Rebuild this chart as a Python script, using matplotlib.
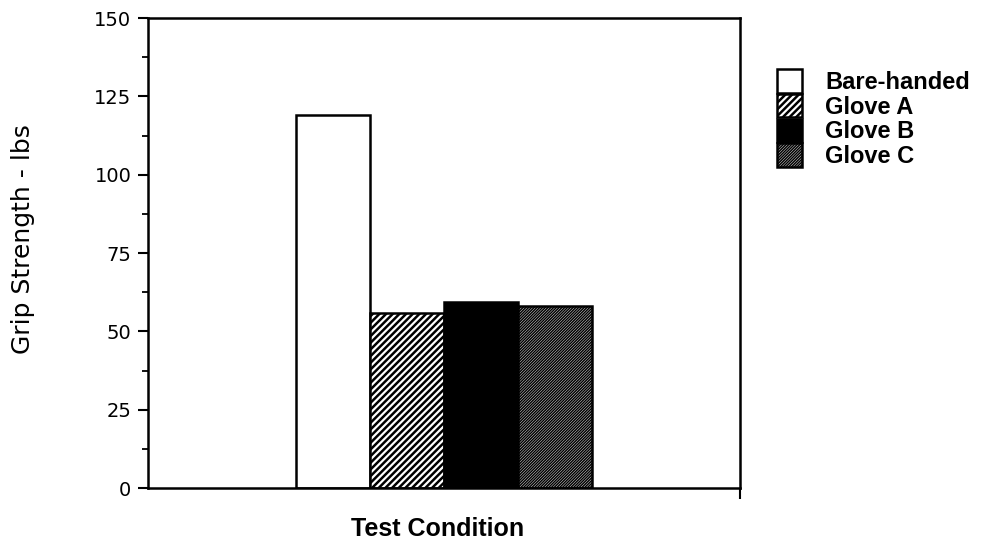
import numpy as np
import matplotlib
matplotlib.use("Agg")
import matplotlib.pyplot as plt
from matplotlib.ticker import MultipleLocator

# grip strength by test condition (lbs)
conditions = ["Bare-handed", "Glove A", "Glove B", "Glove C"]
strength = [119, 56, 59.5, 58]
fills = ["white", "white", "black", "white"]
hatches = [None, "/////", None, "////////////"]
hatch_widths = [1.0, 1.8, 1.0, 1.1]

y_ticks = [0, 25, 50, 75, 100, 125, 150]


def set_hatch_width(patch, w):
    if hasattr(patch, "set_hatch_linewidth"):
        patch.set_hatch_linewidth(w)


def main():
    plt.rcParams["hatch.linewidth"] = 1.0

    fig = plt.figure(figsize=(9.97, 5.46), dpi=100)
    ax = fig.add_axes([0.1484, 0.1062, 0.5938, 0.8608])

    x = np.arange(len(conditions))
    for i, name in enumerate(conditions):
        bc = ax.bar(x[i], strength[i], width=1.0, color=fills[i],
                    edgecolor="black", linewidth=1.8, hatch=hatches[i],
                    label=name)
        for p in bc.patches:
            set_hatch_width(p, hatch_widths[i])

    ax.set_xlim(-2.5, 5.5)
    ax.set_ylim(0, 150)
    ax.set_yticks(y_ticks)
    ax.yaxis.set_minor_locator(MultipleLocator(12.5))
    ax.set_xticks([5.5])
    ax.set_xticklabels([""])

    ax.tick_params(axis="y", which="major", direction="out", length=7,
                   width=1.5, pad=5, labelsize=14)
    ax.tick_params(axis="y", which="minor", direction="out", length=4,
                   width=1.3)
    ax.tick_params(axis="x", direction="out", length=8, width=1.5)

    for side in ax.spines.values():
        side.set_linewidth(1.8)

    ax.set_ylabel("Grip Strength - lbs", fontsize=18)
    ax.yaxis.set_label_coords(-0.19, 0.53)
    ax.set_xlabel("Test Condition", fontsize=18, fontweight="bold",
                  family="Liberation Sans")
    ax.xaxis.set_label_coords(0.49, -0.062)

    leg = ax.legend(loc="upper left", bbox_to_anchor=(0.779, 0.873),
                    bbox_transform=fig.transFigure, frameon=False,
                    prop={"family": "Liberation Sans", "weight": "bold",
                          "size": 17},
                    handlelength=1.06, handleheight=1.15, labelspacing=0.0,
                    handletextpad=1.0, borderpad=0.0, borderaxespad=0.0)
    for i, p in enumerate(leg.get_patches()):
        set_hatch_width(p, hatch_widths[i])

    fig.savefig("out.png", dpi=100)


if __name__ == "__main__":
    main()
